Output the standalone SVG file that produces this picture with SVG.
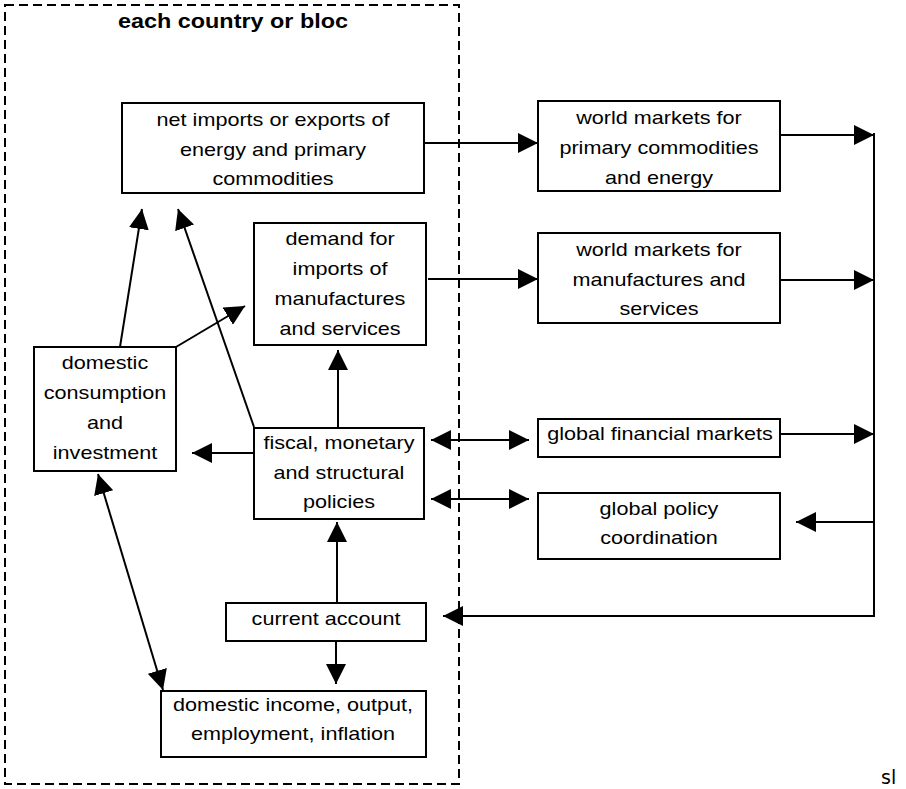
<svg xmlns="http://www.w3.org/2000/svg" width="906" height="789" viewBox="0 0 906 789">
<style>
.box{fill:#fff;stroke:#000;stroke-width:2}
.t{font-family:"Liberation Sans",Arial,sans-serif;font-size:18px;fill:#000;text-anchor:middle}
.c{fill:none;stroke:#000;stroke-width:2}
.a{marker-end:url(#ah)}
.d{marker-start:url(#ah);marker-end:url(#ah)}
</style>
<defs>
<marker id="ah" markerUnits="userSpaceOnUse" markerWidth="20" markerHeight="20" refX="20" refY="10" orient="auto-start-reverse" viewBox="0 0 20 20">
<path d="M0,0 L20,10 L0,20 z" fill="#000"/>
</marker>
</defs>
<rect width="906" height="789" fill="#fff"/>
<g id="country-bloc">
<rect x="5" y="5" width="454" height="779" fill="none" stroke="#000" stroke-width="2" stroke-dasharray="9 5"/>
<text transform="translate(233,0) scale(1.2,1)" y="28" style="font-family:'Liberation Sans',Arial,sans-serif;font-size:19.5px;font-weight:bold;text-anchor:middle">each country or bloc</text>
</g>
<g id="connectors">
<line class="c a" x1="424" y1="143" x2="538" y2="143"/>
<line class="c a" x1="780" y1="135" x2="874" y2="135"/>
<line class="c a" x1="428" y1="279" x2="538" y2="279"/>
<line class="c a" x1="780" y1="280" x2="874" y2="280"/>
<line class="c" x1="874" y1="133" x2="874" y2="616"/>
<line class="c a" x1="780" y1="434" x2="874" y2="434"/>
<line class="c a" x1="874" y1="522" x2="796" y2="522"/>
<line class="c a" x1="875" y1="616" x2="443" y2="616"/>
<line class="c d" x1="431" y1="440" x2="529" y2="440"/>
<line class="c d" x1="431" y1="499" x2="529" y2="499"/>
<line class="c a" x1="120" y1="347" x2="142" y2="209"/>
<line class="c a" x1="254" y1="427" x2="178" y2="209"/>
<line class="c a" x1="176" y1="347" x2="245" y2="306"/>
<line class="c a" x1="338" y1="428" x2="338" y2="350"/>
<line class="c a" x1="254" y1="453" x2="192" y2="453"/>
<line class="c d" x1="98" y1="474" x2="163" y2="690"/>
<line class="c a" x1="337" y1="603" x2="337" y2="522"/>
<line class="c a" x1="336" y1="641" x2="336" y2="684"/>
</g>
<g id="net-imports">
<rect class="box" x="122" y="103" width="302" height="90"/>
<text class="t" transform="translate(273,0) scale(1.2,1)"><tspan x="0" y="126">net imports or exports of</tspan><tspan x="0" y="156">energy and primary</tspan><tspan x="0" y="185">commodities</tspan></text>
</g>
<g id="world-primary">
<rect class="box" x="538" y="101" width="242" height="90"/>
<text class="t" transform="translate(659,0) scale(1.2,1)"><tspan x="0" y="124">world markets for</tspan><tspan x="0" y="154">primary commodities</tspan><tspan x="0" y="184">and energy</tspan></text>
</g>
<g id="world-manufactures">
<rect class="box" x="538" y="233" width="242" height="90"/>
<text class="t" transform="translate(659,0) scale(1.2,1)"><tspan x="0" y="256">world markets for</tspan><tspan x="0" y="286">manufactures and</tspan><tspan x="0" y="315">services</tspan></text>
</g>
<g id="demand-imports">
<rect class="box" x="254" y="223" width="172" height="122"/>
<text class="t" transform="translate(340,0) scale(1.2,1)"><tspan x="0" y="245">demand for</tspan><tspan x="0" y="275">imports of</tspan><tspan x="0" y="305">manufactures</tspan><tspan x="0" y="335">and services</tspan></text>
</g>
<g id="domestic-consumption">
<rect class="box" x="34" y="347" width="142" height="124"/>
<text class="t" transform="translate(105,0) scale(1.2,1)"><tspan x="0" y="369">domestic</tspan><tspan x="0" y="399">consumption</tspan><tspan x="0" y="429">and</tspan><tspan x="0" y="459">investment</tspan></text>
</g>
<g id="fiscal-policies">
<rect class="box" x="254" y="428" width="170" height="91"/>
<text class="t" transform="translate(339,0) scale(1.2,1)"><tspan x="0" y="449">fiscal, monetary</tspan><tspan x="0" y="479">and structural</tspan><tspan x="0" y="508">policies</tspan></text>
</g>
<g id="global-financial">
<rect class="box" x="538" y="419" width="242" height="38"/>
<text class="t" transform="translate(660,0) scale(1.2,1)" y="440">global financial markets</text>
</g>
<g id="global-policy">
<rect class="box" x="538" y="493" width="242" height="66"/>
<text class="t" transform="translate(659,0) scale(1.2,1)"><tspan x="0" y="515">global policy</tspan><tspan x="0" y="544">coordination</tspan></text>
</g>
<g id="current-account">
<rect class="box" x="226" y="603" width="200" height="38"/>
<text class="t" transform="translate(326,0) scale(1.2,1)" y="625">current account</text>
</g>
<g id="domestic-income">
<rect class="box" x="161" y="691" width="265" height="66"/>
<text class="t" transform="translate(293,0) scale(1.2,1)"><tspan x="0" y="711">domestic income, output,</tspan><tspan x="0" y="740">employment, inflation</tspan></text>
</g>
<text x="881" y="784" style="font-family:'DejaVu Sans',sans-serif;font-size:19px;fill:#000">sl</text>
</svg>
